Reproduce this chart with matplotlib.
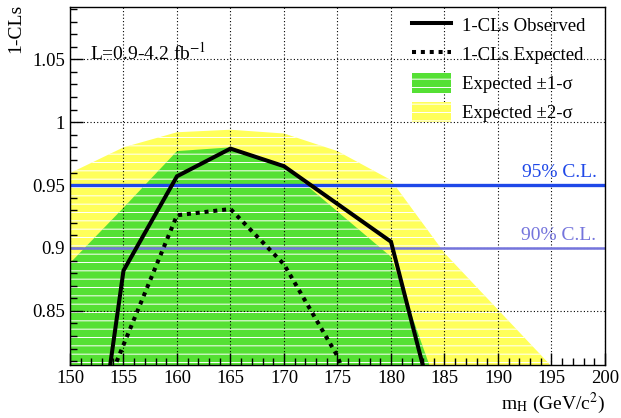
import numpy as np
import matplotlib
matplotlib.use("Agg")
import matplotlib.pyplot as plt
from matplotlib.patches import Patch
from matplotlib.lines import Line2D

plt.rcParams['font.family'] = ['Liberation Serif', 'DejaVu Serif']
plt.rcParams['mathtext.fontset'] = 'stix'
plt.rcParams['hatch.linewidth'] = 0.7

# =============================================================================
# Data
# =============================================================================
mass_obs = [150, 155, 160, 165, 170, 175, 180, 185]
cls_obs  = [0.58, 0.882, 0.957, 0.979, 0.965, 0.935, 0.905, 0.74]

mass_exp = [150, 155, 160, 165, 170, 175, 180]
cls_exp  = [0.72, 0.823, 0.926, 0.931, 0.887, 0.814, 0.70]

mass_1s = [150, 155, 160, 165, 170, 175, 180, 185]
band1_hi = [0.888, 0.932, 0.977, 0.980, 0.965, 0.929, 0.893, 0.773]
band1_lo = [0.70, 0.70, 0.70, 0.70, 0.70, 0.70, 0.70, 0.70]

mass_2s = [150, 155, 160, 165, 170, 175, 180, 185, 190, 195, 200]
band2_hi = [0.9595, 0.980, 0.992, 0.994, 0.991, 0.977, 0.954, 0.896, 0.851, 0.806, 0.76]
band2_lo = [0.65, 0.65, 0.65, 0.65, 0.65, 0.65, 0.65, 0.65, 0.65, 0.65, 0.65]

cl_levels = [0.95, 0.90]
cl_labels = ['95% C.L.', '90% C.L.']

# =============================================================================
# Plot
# =============================================================================
green  = '#55e034'
yellow = '#ffff5a'
c95 = '#1f48e8'
c90 = '#7474dc'

fig = plt.figure(figsize=(6.21, 4.18), dpi=100)
ax = fig.add_axes([0.1127, 0.1256, 0.8615, 0.8569])

ax.fill_between(mass_2s, band2_lo, band2_hi, facecolor=yellow, edgecolor='white',
                hatch='--', lw=0, zorder=1)
ax.fill_between(mass_1s, band1_lo, band1_hi, facecolor=green, edgecolor='white',
                hatch='--', lw=0, zorder=1.1)

ax.axhline(cl_levels[0], color=c95, lw=2.4, zorder=3)
ax.axhline(cl_levels[1], color=c90, lw=1.8, zorder=3)
ax.text(199.2, cl_levels[0] + 0.003, cl_labels[0], color=c95, fontsize=14,
        ha='right', va='bottom', zorder=4)
ax.text(199.2, cl_levels[1] + 0.003, cl_labels[1], color=c90, fontsize=14,
        ha='right', va='bottom', zorder=4)

ax.plot(mass_obs, cls_obs, color='black', lw=2.9, solid_joinstyle='miter', zorder=5)
ax.plot(mass_exp, cls_exp, color='black', lw=2.9, linestyle=(0, (1.0, 1.2)),
        dash_capstyle='butt', zorder=5)

ax.set_xlim(150, 200)
ax.set_ylim(0.8066, 1.0913)
ax.set_xticks(np.arange(150, 201, 5))
ax.set_xticks(np.arange(150, 201, 1), minor=True)
ax.set_yticks([0.85, 0.9, 0.95, 1.0, 1.05])
ax.set_yticklabels(['0.85', '0.9', '0.95', '1', '1.05'])
ax.set_yticks(np.arange(0.81, 1.091, 0.01), minor=True)
ax.tick_params(which='both', direction='in', top=False, right=False, labelsize=13.5,
               width=1.0)
ax.tick_params(which='major', length=9)
ax.tick_params(which='minor', length=5)
ax.tick_params(axis='x', pad=3)

ax.set_axisbelow(False)
ax.grid(True, which='major', color='black', linestyle=(0, (1, 2)), lw=0.8)
for sp in ax.spines.values():
    sp.set_linewidth(1.0)
    sp.set_zorder(6)

ax.text(151.9, 1.055, r'L=0.9-4.2 fb$^{\mathrm{-1}}$', fontsize=14, ha='left',
        va='center')

fig.text(0.974, 0.004, r'm$_{\mathrm{H}}$ (GeV/c$^{2}$)', fontsize=14,
         ha='right', va='bottom')
fig.text(0.012, 0.99, '1-CLs', fontsize=14, rotation=90, ha='left', va='top')

handles = [
    Line2D([], [], color='black', lw=2.9),
    Line2D([], [], color='black', lw=2.9, linestyle=(0, (1.0, 1.2)), dash_capstyle='butt'),
    Patch(facecolor=green, edgecolor='white', hatch='--', lw=0),
    Patch(facecolor=yellow, edgecolor='white', hatch='--', lw=0),
]
labels = ['1-CLs Observed', '1-CLs Expected', 'Expected \u00b11-\u03c3',
          'Expected \u00b12-\u03c3']
leg = ax.legend(handles, labels, loc='upper left', bbox_to_anchor=(0.625, 1.0),
                frameon=False, fontsize=13.5, handlelength=2.1, handleheight=1.3,
                handletextpad=0.6, labelspacing=0.45, borderaxespad=0.0)
leg.set_zorder(7)

fig.savefig('out.png', dpi=100)
